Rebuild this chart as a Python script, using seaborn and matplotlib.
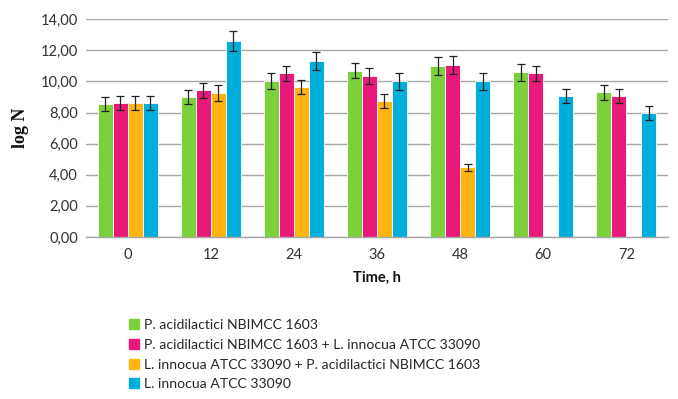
import matplotlib
matplotlib.use("Agg")
import matplotlib.pyplot as plt
import seaborn as sns
import pandas as pd
import numpy as np
from matplotlib.lines import Line2D

times = ["0", "12", "24", "36", "48", "60", "72"]
series = [
    "P. acidilactici NBIMCC 1603",
    "P. acidilactici NBIMCC 1603 + L. innocua ATCC 33090",
    "L. innocua ATCC 33090 + P. acidilactici NBIMCC 1603",
    "L. innocua ATCC 33090",
]
s1 = [8.52, 9.01, 10.02, 10.70, 11.00, 10.60, 9.29]
s2 = [8.59, 9.42, 10.51, 10.32, 11.05, 10.51, 9.06]
s3 = [8.59, 9.25, 9.65, 8.73, 4.48, np.nan, np.nan]
s4 = [8.63, 12.59, 11.30, 10.00, 10.00, 9.06, 7.98]
e1 = [0.45, 0.45, 0.53, 0.51, 0.57, 0.55, 0.51]
e2 = [0.45, 0.47, 0.49, 0.51, 0.60, 0.50, 0.43]
e3 = [0.45, 0.49, 0.47, 0.43, 0.23, np.nan, np.nan]
e4 = [0.45, 0.62, 0.56, 0.55, 0.55, 0.47, 0.43]
colors = ["#7CD03B", "#E8197A", "#FFB40F", "#00AEDB"]

vals = [s1, s2, s3, s4]
errs = [e1, e2, e3, e4]
rows = []
for name, v, e in zip(series, vals, errs):
    for t, vv, ee in zip(times, v, e):
        rows.append({"time": t, "series": name, "value": vv, "err": ee})
df = pd.DataFrame(rows)

sns.set_theme(style="white")
plt.rcParams["font.family"] = ["Lato", "DejaVu Sans"]

fig = plt.figure(figsize=(6.78, 3.99), dpi=100)
ax = fig.add_axes([0.127, 0.406, 0.858, 0.546])

sns.barplot(data=df.dropna(subset=["value"]), x="time", y="value", hue="series",
            order=times, hue_order=series, palette=colors, saturation=1,
            errorbar=None, width=0.72, edgecolor="white", linewidth=0.6, ax=ax,
            legend=False, zorder=2)

for cont, name in zip(ax.containers, series):
    sub = df[(df.series == name)].dropna(subset=["value"])
    for bar, (_, r) in zip(cont, sub.iterrows()):
        xc = bar.get_x() + bar.get_width() / 2
        ax.errorbar(xc, r["value"], yerr=r["err"], fmt="none", ecolor="#222222",
                    elinewidth=0.9, capsize=3.2, capthick=0.9, zorder=3)

ax.set_ylim(0, 14)
ax.set_xlim(-0.5, 6.5)
ax.set_yticks(np.arange(0, 14.1, 2))
ax.set_yticklabels([f"{v:.2f}".replace(".", ",") for v in np.arange(0, 14.1, 2)],
                   fontsize=10.5, color="#333333")
ax.yaxis.grid(True, color="#A6A6A6", linewidth=1.0, zorder=0)
ax.set_axisbelow(True)
for sp in ["left", "right", "top"]:
    ax.spines[sp].set_visible(False)
ax.spines["bottom"].set_color("#A6A6A6")
ax.spines["bottom"].set_linewidth(1.0)
ax.tick_params(axis="y", length=0, pad=6)
ax.tick_params(axis="x", which="major", length=0, pad=8, labelsize=10.5, labelcolor="#333333")
ax.set_xticks(np.arange(-0.5, 6.6, 1), minor=True)
ax.tick_params(axis="x", which="minor", length=5, color="#A6A6A6", width=1.0, direction="out")

ax.set_xlabel("Time, h", fontsize=10.5, fontweight="bold", labelpad=6, color="#111111")
ax.set_ylabel("log N", fontsize=13, fontweight="bold", family="Liberation Serif",
              labelpad=8, color="#111111")

handles = [Line2D([0], [0], marker="s", linestyle="none", markersize=6.5,
                  markerfacecolor=c, markeredgecolor=c) for c in colors]
fig.legend(handles, series, loc="upper left", bbox_to_anchor=(0.192, 0.2),
           frameon=False, fontsize=10.1, handlelength=0.6, handletextpad=0.35,
           labelspacing=0.55, borderaxespad=0, borderpad=0)

fig.savefig("out.png", dpi=100)
